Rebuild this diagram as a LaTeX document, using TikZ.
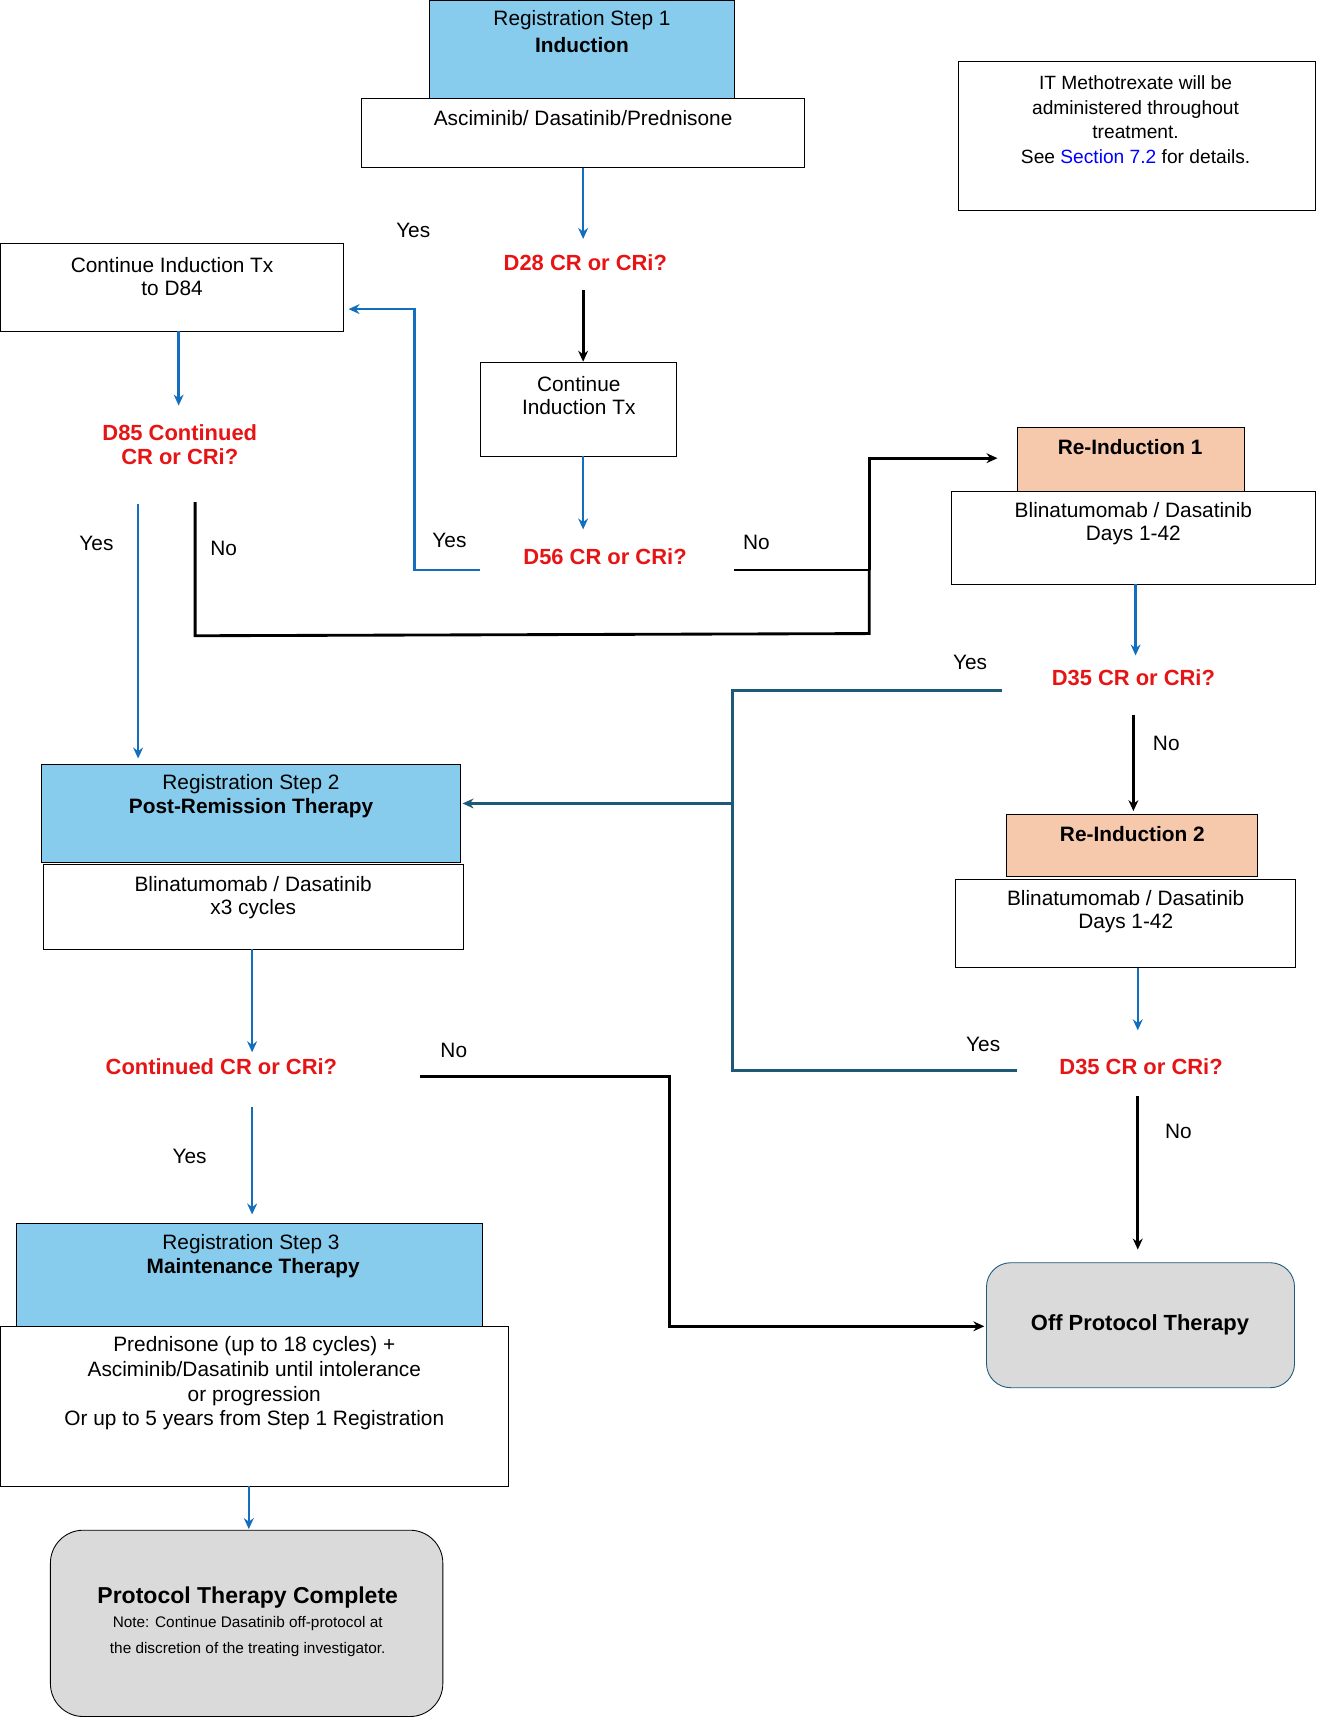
\documentclass[tikz,border=0pt]{standalone}
\usepackage{fontspec}
\setmainfont{Liberation Sans}
\usetikzlibrary{arrows.meta}
\definecolor{sky}{RGB}{135,204,236}
\definecolor{salmon}{RGB}{246,200,172}
\definecolor{aro}{RGB}{20,110,190}
\definecolor{teal}{RGB}{30,90,120}
\definecolor{qred}{RGB}{230,20,20}
\definecolor{lgray}{RGB}{218,218,218}
\begin{document}
\begin{tikzpicture}[x=1pt,y=-1pt,
  box/.style={draw,thick,fill=white},
  txt/.style={font=\fontsize{19}{21}\selectfont,align=center,inner sep=0},
  q/.style={font=\fontsize{20}{22}\selectfont\bfseries,text=qred,align=center,inner sep=0},
  ba/.style={aro,line width=2.2pt,-{Stealth[length=10pt,width=9pt]}},
  ka/.style={black,line width=2.6pt,-{Stealth[length=10pt,width=9pt]}},
  kl/.style={black,line width=2.6pt},
  tl/.style={teal,line width=2.6pt}]
\useasboundingbox (0,0) rectangle (1210,1571);
% Step 1
\draw[box,fill=sky] (392,0) rectangle (670,90);
\node[txt] (r1) at (531,18) {Registration Step 1};
\node[txt,font=\fontsize{19}{21}\selectfont\bfseries] (r1b) at (531,41) {Induction};
\draw[box] (330,90) rectangle (734,153);
\node[txt] (asc) at (532,108) {Asciminib/ Dasatinib/Prednisone};
\coordinate (b1) at (532,153);
\node[q] (d28) at (534,240) {D28 CR or CRi?};
\node[txt] (y1) at (377,210) {Yes};
\draw[ba] (b1) -- (532,218);
\draw[box] (438,331) rectangle (617,416);
\node[txt] (cit) at (528,361) {Continue\\Induction Tx};
\draw[ka] (532,265) -- (532,330);
\draw[ba] (532,416) -- (532,483);
\node[q] (d56) at (552,508) {D56 CR or CRi?};
\node[txt] (y2) at (410,493) {Yes};
\draw[ba] (438,520) -- (378,520) -- (378,282) -- (318,282);
% Continue to D84
\draw[box] (0,222) rectangle (313,302);
\node[txt] (c84) at (157,252) {Continue Induction Tx\\to D84};
\draw[ba] (163,302) -- (163,370);
\node[q] (d85) at (164,406) {D85 Continued\\CR or CRi?};
\node[txt] (y3) at (88,496) {Yes};
\draw[ba] (126,460) -- (126,692);
\node[txt] (n1) at (204,500) {No};
\draw[kl] (178,458) -- (178,580) -- (793,578) -- (793,520);
\node[txt] (n2) at (690,495) {No};
\draw[kl] (670,520) -- (793,520);
\draw[ka] (793,520) -- (793,418) -- (910,418);
% Re-induction 1
\draw[box,fill=salmon] (928,390) rectangle (1135,448);
\node[txt,font=\fontsize{19}{21}\selectfont\bfseries] (ri1) at (1031,408) {Re-Induction 1};
\draw[box] (868,448) rectangle (1200,533);
\node[txt] (bl1) at (1034,478) {Blinatumomab / Dasatinib\\Days 1-42};
\draw[ba] (1036,533) -- (1036,598);
\node[q] (d35a) at (1034,618) {D35 CR or CRi?};
\node[txt] (y4) at (885,604) {Yes};
\node[txt] (n3) at (1064,678) {No};
\draw[ka] (1034,652) -- (1034,740);
% Re-induction 2
\draw[box,fill=salmon] (918,743) rectangle (1147,800);
\node[txt,font=\fontsize{19}{21}\selectfont\bfseries] (ri2) at (1033,761) {Re-Induction 2};
\draw[box] (872,802) rectangle (1182,883);
\node[txt] (bl2) at (1027,832) {Blinatumomab / Dasatinib\\Days 1-42};
\draw[ba] (1038,883) -- (1038,940);
\node[q] (d35b) at (1041,973) {D35 CR or CRi?};
\node[txt] (y5) at (897,953) {Yes};
\node[txt] (n4) at (1075,1032) {No};
\draw[ka] (1038,1000) -- (1038,1140);
% teal
\draw[tl] (914,630) -- (668,630) -- (668,977) -- (928,977);
\draw[tl,-{Stealth[length=10pt,width=9pt]}] (668,733) -- (422,733);
% Step 2
\draw[box,fill=sky] (38,697) rectangle (420,787);
\node[txt] (r2) at (229,715) {Registration Step 2};
\node[txt,font=\fontsize{19}{21}\selectfont\bfseries] (r2b) at (229,737) {Post-Remission Therapy};
\draw[box] (40,789) rectangle (423,866);
\node[txt] (bl3) at (231,819) {Blinatumomab / Dasatinib\\x3 cycles};
\draw[ba] (230,866) -- (230,960);
\node[q] (ccr) at (202,973) {Continued CR or CRi?};
\node[txt] (n5) at (414,958) {No};
\draw[ka] (383,982) -- (611,982) -- (611,1210) -- (898,1210);
\node[txt] (y6) at (173,1055) {Yes};
\draw[ba] (230,1010) -- (230,1108);
% Step 3
\draw[box,fill=sky] (15,1116) rectangle (440,1210);
\node[txt] (r3) at (229,1135) {Registration Step 3};
\node[txt,font=\fontsize{19}{21}\selectfont\bfseries] (r3b) at (231,1157) {Maintenance Therapy};
\draw[box] (0,1210) rectangle (464,1356);
\node[txt,font=\fontsize{19}{22.5}\selectfont] (pred) at (232,1262) {Prednisone (up to 18 cycles) +\\Asciminib/Dasatinib until intolerance\\or progression\\Or up to 5 years from Step 1 Registration};
\draw[ba] (227,1356) -- (227,1395);
\draw[thick,fill=lgray,rounded corners=30pt] (46,1396) rectangle (404,1566);
\node[txt,font=\fontsize{21}{23}\selectfont\bfseries] (ptc) at (226,1457) {Protocol Therapy Complete};
\node[txt,font=\fontsize{14}{23}\selectfont] (note) at (226,1493) {Note: Continue Dasatinib off-protocol at\\the discretion of the treating investigator.};
% Off protocol
\draw[teal,thick,fill=lgray,rounded corners=22pt] (900,1152) rectangle (1181,1266);
\node[txt,font=\fontsize{20}{22}\selectfont\bfseries] (off) at (1040,1209) {Off Protocol Therapy};
% IT box
\draw[box] (874,56) rectangle (1200,192);
\node[txt,font=\fontsize{17.5}{22.5}\selectfont] (it) at (1036,109) {IT Methotrexate will be\\administered throughout\\treatment.\\See \textcolor{blue}{Section 7.2} for details.};
\end{tikzpicture}
\end{document}
